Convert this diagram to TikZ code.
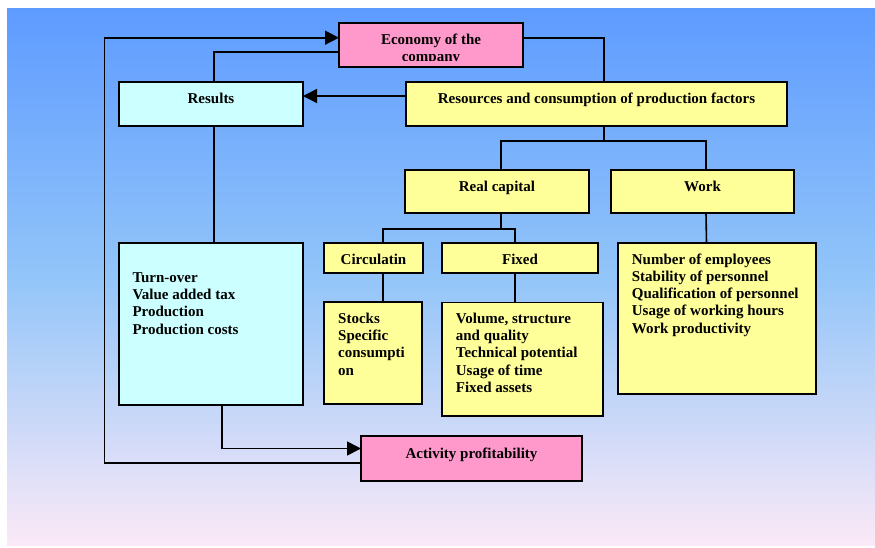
\documentclass[tikz,border=0pt]{standalone}
\usepackage{fontspec}
\setmainfont{Liberation Serif}
\usetikzlibrary{arrows.meta,calc}
\definecolor{bgtop}{HTML}{5E9BFF}
\definecolor{bgmid}{HTML}{92C5F9}
\definecolor{bgbot}{HTML}{FBE9F7}
\definecolor{cyanbox}{HTML}{CCFFFF}
\definecolor{yellowbox}{HTML}{FFFF99}
\definecolor{pinkbox}{HTML}{FF99CC}
\begin{document}
\begin{tikzpicture}[x=1pt,y=-1pt,
  box/.style={draw=black, line width=1.7pt, inner sep=0pt, outer sep=0pt},
  txt/.style={inner sep=0pt, font=\bfseries\fontsize{15}{17.25}\selectfont},
  list/.style={txt, align=left, anchor=north west},
  conn/.style={line width=1.6pt, draw=black},
  arr/.style={conn, -{Triangle[length=14pt,width=14pt]}}]
\useasboundingbox (0,0) rectangle (875,547);
\shade[top color=bgtop, bottom color=bgbot, middle color=bgmid] (7,8) rectangle (875,545);

% boxes
\node[box, fill=pinkbox, minimum width=184pt, minimum height=44pt] (eco) at (431,45) {};
\node[box, fill=cyanbox, minimum width=184pt, minimum height=44pt] (res) at (211,104) {};
\node[box, fill=yellowbox, minimum width=381pt, minimum height=44pt] (resc) at (596.5,104) {};
\node[box, fill=yellowbox, minimum width=184pt, minimum height=43pt] (real) at (497,191.5) {};
\node[box, fill=yellowbox, minimum width=183pt, minimum height=43pt] (work) at (702.5,191.5) {};
\node[box, fill=yellowbox, minimum width=99pt, minimum height=30pt] (circ) at (373.5,258) {};
\node[box, fill=yellowbox, minimum width=156pt, minimum height=30pt] (fixed) at (520,258) {};
\node[box, fill=yellowbox, minimum width=98pt, minimum height=102.5pt] (stocks) at (373,353) {};
\node[box, fill=yellowbox, minimum width=161pt, minimum height=113.7pt] (volume) at (522.8,359.2) {};
\node[box, fill=yellowbox, minimum width=198pt, minimum height=151pt] (number) at (717,318.5) {};
\node[box, fill=cyanbox, minimum width=184pt, minimum height=162pt] (turn) at (211,324) {};
\node[box, fill=pinkbox, minimum width=221pt, minimum height=45pt] (act) at (471.5,458.5) {};

% texts
\begin{scope}
  \clip (339,23) rectangle (523,60.5);
  \node[txt, anchor=base] (ecot1) at (431,44) {Economy of the};
  \node[txt, anchor=base] (ecot2) at (431,61.25) {company};
\end{scope}
\node[txt, anchor=base] (rest) at (211,103) {Results};
\node[txt, anchor=base] (resct) at (596.5,103) {Resources and consumption of production factors};
\node[txt, anchor=base] (realt) at (497,191.5) {Real capital};
\node[txt, anchor=base] (workt) at (702.5,191.5) {Work};
\node[txt, anchor=base] (circt) at (373.5,264) {Circulatin};
\node[txt, anchor=base] (fixedt) at (520,264) {Fixed};
\node[txt, anchor=base] (actt) at (471.5,458.3) {Activity profitability};
\node[list] (stockst) at (338,311.2) {\strut Stocks\\Specific\\consumpti\\on};
\node[list] (volumet) at (455.7,311.2) {\strut Volume, structure\\and quality\\Technical potential\\Usage of time\\Fixed assets};
\node[list] (numbert) at (631.7,251.9) {\strut Number of employees\\Stability of personnel\\Qualification of personnel\\Usage of working hours\\Work productivity};
\node[list] (turnt) at (132.3,270.2) {\strut Turn-over\\Value added tax\\Production\\Production costs};

% connectors
\coordinate (h1) at (604,141);
\coordinate (h2) at (501,229);
\coordinate (loopx) at (104.5,250);
\draw[arr] ($(resc.west)+(0,-8)$) -- ($(res.east)+(0,-8)$);
\draw[conn] ($(res.north)+(3,0)$) |- ($(eco.west)+(0,7)$);
\draw[conn] ($(eco.east)+(0,-7.3)$) -| ($(resc.north)+(7.5,0)$);
\draw[conn] ($(resc.south)+(7.5,0)$) -- (h1);
\draw[conn] ($(real.north)+(4,0)$) |- (h1);
\draw[conn] ($(work.north)+(3.5,0)$) |- (h1);
\draw[conn] ($(real.south)+(4,0)$) -- (h2);
\draw[conn] ($(circ.north)+(9.5,0)$) |- (h2);
\draw[conn] ($(fixed.north)+(-5,0)$) |- (h2);
\draw[conn] ($(circ.south)+(9.5,0)$) -- ($(stocks.north)+(10,0)$);
\draw[conn] ($(fixed.south)+(-5,0)$) -- ($(volume.north)+(-7.8,0)$);
\draw[conn] ($(work.south)+(3.5,0)$) -- ($(number.north)+(-10.5,0)$);
\draw[conn] ($(res.south)+(3,0)$) -- ($(turn.north)+(3,0)$);
\draw[arr] ($(turn.south)+(11,0)$) |- ($(act.west)+(0,-10)$);
\draw[arr] ($(act.west)+(0,4.5)$) -| (loopx) |- ($(eco.west)+(0,-7.3)$);
\end{tikzpicture}
\end{document}
